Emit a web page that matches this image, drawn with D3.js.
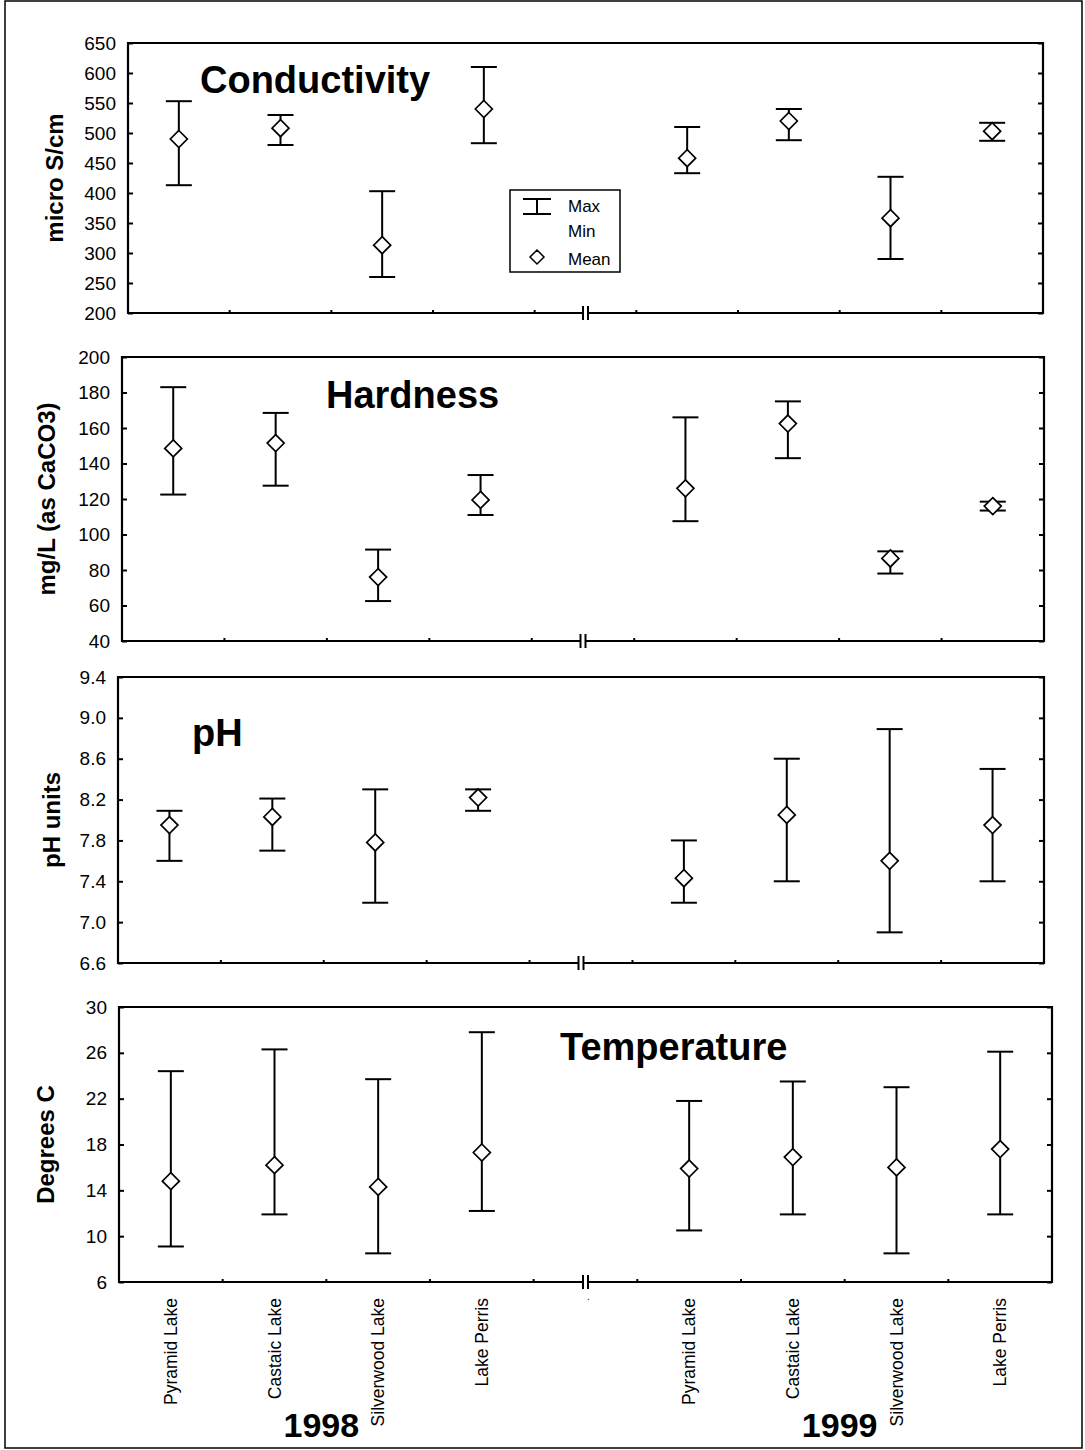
<!DOCTYPE html>
<html>
<head>
<meta charset="utf-8">
<script src="https://cdn.jsdelivr.net/npm/d3@7"></script>
<style>
  html, body { margin: 0; padding: 0; background: #fff; }
  svg { display: block; font-family: "Liberation Sans", Arial, sans-serif; }
</style>
</head>
<body>
<svg id="chart" width="1085" height="1450"></svg>
<script>
// ---------- DATA ----------
const lakes = ["Pyramid Lake", "Castaic Lake", "Silverwood Lake", "Lake Perris"];
const years = ["1998", "1999"];
// x categories: 4 lakes (1998), break ".", 4 lakes (1999)
const categories = ["P98", "C98", "S98", "L98", "brk", "P99", "C99", "S99", "L99"];
const categoryLabels = ["Pyramid Lake", "Castaic Lake", "Silverwood Lake", "Lake Perris", ".",
                        "Pyramid Lake", "Castaic Lake", "Silverwood Lake", "Lake Perris"];
const dataCats = ["P98", "C98", "S98", "L98", "P99", "C99", "S99", "L99"];

// Conductivity (micro S/cm)
const condMax  = [553, 530, 403, 610, 510, 540, 427, 517];
const condMin  = [413, 480, 260, 483, 433, 488, 290, 487];
const condMean = [490, 508, 313, 540, 458, 520, 358, 503];
const condTicks = [200, 250, 300, 350, 400, 450, 500, 550, 600, 650];

// Hardness (mg/L as CaCO3)
const hardMax  = [183, 168.5, 91.5, 133.5, 166, 175, 90.5, 118.5];
const hardMin  = [122.5, 127.5, 62.5, 111, 107.5, 143, 78, 113.5];
const hardMean = [148.5, 151.5, 76, 119.5, 126, 162.5, 86.5, 116];
const hardTicks = [40, 60, 80, 100, 120, 140, 160, 180, 200];

// pH (pH units)
const phMax  = [8.09, 8.21, 8.30, 8.30, 7.80, 8.60, 8.89, 8.50];
const phMin  = [7.60, 7.70, 7.19, 8.09, 7.19, 7.40, 6.90, 7.40];
const phMean = [7.95, 8.03, 7.78, 8.22, 7.43, 8.05, 7.60, 7.95];
const phTicks = [6.6, 7.0, 7.4, 7.8, 8.2, 8.6, 9.0, 9.4];

// Temperature (Degrees C)
const tempMax  = [24.4, 26.3, 23.7, 27.8, 21.8, 23.5, 23.0, 26.1];
const tempMin  = [9.1, 11.9, 8.5, 12.2, 10.5, 11.9, 8.5, 11.9];
const tempMean = [14.8, 16.2, 14.3, 17.3, 15.9, 16.9, 16.0, 17.6];
const tempTicks = [6, 10, 14, 18, 22, 26, 30];

// ---------- PANELS ----------
const panels = [
  { title: "Conductivity", yTitle: "micro S/cm", max: condMax, min: condMin, mean: condMean,
    ticks: condTicks, fmt: d3.format("d"),
    box: { l: 128, r: 1043, t: 43, b: 313 }, titlePos: [200, 93], yTitleX: 55 },
  { title: "Hardness", yTitle: "mg/L (as CaCO3)", max: hardMax, min: hardMin, mean: hardMean,
    ticks: hardTicks, fmt: d3.format("d"),
    box: { l: 122, r: 1044, t: 357, b: 641 }, titlePos: [326, 408], yTitleX: 47 },
  { title: "pH", yTitle: "pH units", max: phMax, min: phMin, mean: phMean,
    ticks: phTicks, fmt: d3.format(".1f"),
    box: { l: 118, r: 1044, t: 677, b: 963 }, titlePos: [192, 746], yTitleX: 52 },
  { title: "Temperature", yTitle: "Degrees C", max: tempMax, min: tempMin, mean: tempMean,
    ticks: tempTicks, fmt: d3.format("d"),
    box: { l: 119, r: 1052, t: 1007, b: 1282 }, titlePos: [560, 1060], yTitleX: 46 }
];

const svg = d3.select("#chart");

// outer frame
svg.append("rect").attr("x", 5).attr("y", 1).attr("width", 1077).attr("height", 1447)
  .attr("fill", "none").attr("stroke", "#000").attr("stroke-width", 1.5);

const diamond = (cx, cy, s) => `M${cx},${cy - s}L${cx + s},${cy}L${cx},${cy + s}L${cx - s},${cy}Z`;

let lastX = null;
panels.forEach((p, pi) => {
  const B = p.box;
  const x = d3.scaleBand().domain(categories).range([B.l, B.r]).padding(0);
  const cx = c => x(c) + x.bandwidth() / 2;
  const y = d3.scaleLinear().domain(d3.extent(p.ticks)).range([B.b, B.t]);
  lastX = { x, cx, B };
  const g = svg.append("g");

  // left axis (ticks inward)
  const la = g.append("g").attr("transform", `translate(${B.l},0)`)
    .call(d3.axisLeft(y).tickValues(p.ticks).tickFormat(p.fmt).tickSize(-5).tickPadding(12));
  la.select(".domain").remove();
  la.selectAll("line").attr("stroke-width", 2);
  la.selectAll("text").attr("font-size", 19).attr("fill", "#000");

  // right axis (ticks inward)
  const ra = g.append("g").attr("transform", `translate(${B.r},0)`)
    .call(d3.axisRight(y).tickValues(p.ticks).tickFormat("").tickSize(-5));
  ra.select(".domain").remove();
  ra.selectAll("line").attr("stroke-width", 2);

  // bottom small ticks at band boundaries
  const bounds = categories.slice(1).map(c => x(c));
  g.selectAll(".bt").data(bounds).join("line")
    .attr("x1", d => d).attr("x2", d => d)
    .attr("y1", B.b).attr("y2", B.b - 3)
    .attr("stroke", "#000").attr("stroke-width", 2);

  // frame: top, left, right full; bottom with break gap
  const bx = cx("brk");
  g.append("path")
    .attr("d", `M${bx - 2.5},${B.b}L${B.l},${B.b}L${B.l},${B.t}L${B.r},${B.t}L${B.r},${B.b}L${bx + 2.5},${B.b}`)
    .attr("fill", "none").attr("stroke", "#000").attr("stroke-width", 2.2);
  [bx - 2.5, bx + 2.5].forEach(xx => {
    g.append("line").attr("x1", xx).attr("x2", xx)
      .attr("y1", B.b - 7).attr("y2", B.b + 7)
      .attr("stroke", "#000").attr("stroke-width", 2);
  });

  // error bars
  const rows = dataCats.map((c, i) => ({ c, mx: p.max[i], mn: p.min[i], me: p.mean[i] }));
  const eb = g.selectAll(".eb").data(rows).join("g");
  eb.append("line").attr("x1", d => cx(d.c)).attr("x2", d => cx(d.c))
    .attr("y1", d => y(d.mx)).attr("y2", d => y(d.mn))
    .attr("stroke", "#000").attr("stroke-width", 2);
  eb.append("line").attr("x1", d => cx(d.c) - 13).attr("x2", d => cx(d.c) + 13)
    .attr("y1", d => y(d.mx)).attr("y2", d => y(d.mx))
    .attr("stroke", "#000").attr("stroke-width", 2);
  eb.append("line").attr("x1", d => cx(d.c) - 13).attr("x2", d => cx(d.c) + 13)
    .attr("y1", d => y(d.mn)).attr("y2", d => y(d.mn))
    .attr("stroke", "#000").attr("stroke-width", 2);
  eb.append("path").attr("d", d => diamond(cx(d.c), y(d.me), 8.5))
    .attr("fill", "#fff").attr("stroke", "#000").attr("stroke-width", 1.7);

  // panel title
  g.append("text").attr("x", p.titlePos[0]).attr("y", p.titlePos[1])
    .attr("font-size", 38).attr("font-weight", "bold").text(p.title);

  // y title
  g.append("text")
    .attr("transform", `translate(${p.yTitleX},${(B.t + B.b) / 2}) rotate(-90)`)
    .attr("text-anchor", "middle").attr("dy", "0.35em")
    .attr("font-size", 24).attr("font-weight", "bold").text(p.yTitle);
});

// x category labels (below bottom panel)
{
  const { cx, B } = lastX;
  svg.selectAll(".xl").data(categories).join("text")
    .attr("transform", (c) => `translate(${cx(c)},${B.b + 16}) rotate(-90)`)
    .attr("text-anchor", "end").attr("dy", "0.35em")
    .attr("font-size", (c, i) => categoryLabels[i] === "." ? 10 : 17.5)
    .text((c, i) => categoryLabels[i]);

  // year labels
  const yearX = [ (cx("P98") + cx("L98")) / 2 - 5, (cx("P99") + cx("L99")) / 2 - 5 ];
  svg.selectAll(".yr").data(years).join("text")
    .attr("x", (d, i) => yearX[i]).attr("y", 1437)
    .attr("text-anchor", "middle").attr("font-size", 34).attr("font-weight", "bold")
    .text(d => d);
}

// legend
{
  const lg = svg.append("g");
  lg.append("rect").attr("x", 510).attr("y", 190).attr("width", 110).attr("height", 82)
    .attr("fill", "#fff").attr("stroke", "#000").attr("stroke-width", 1.5);
  lg.append("line").attr("x1", 523).attr("x2", 551).attr("y1", 199).attr("y2", 199)
    .attr("stroke", "#000").attr("stroke-width", 2);
  lg.append("line").attr("x1", 537).attr("x2", 537).attr("y1", 199).attr("y2", 214)
    .attr("stroke", "#000").attr("stroke-width", 2);
  lg.append("line").attr("x1", 523).attr("x2", 551).attr("y1", 214).attr("y2", 214)
    .attr("stroke", "#000").attr("stroke-width", 2);
  lg.append("path").attr("d", diamond(537, 257, 7))
    .attr("fill", "#fff").attr("stroke", "#000").attr("stroke-width", 1.5);
  const lt = [["Max", 212], ["Min", 237], ["Mean", 265]];
  lg.selectAll(".lt").data(lt).join("text")
    .attr("x", 568).attr("y", d => d[1]).attr("font-size", 17).text(d => d[0]);
}
</script>
</body>
</html>
